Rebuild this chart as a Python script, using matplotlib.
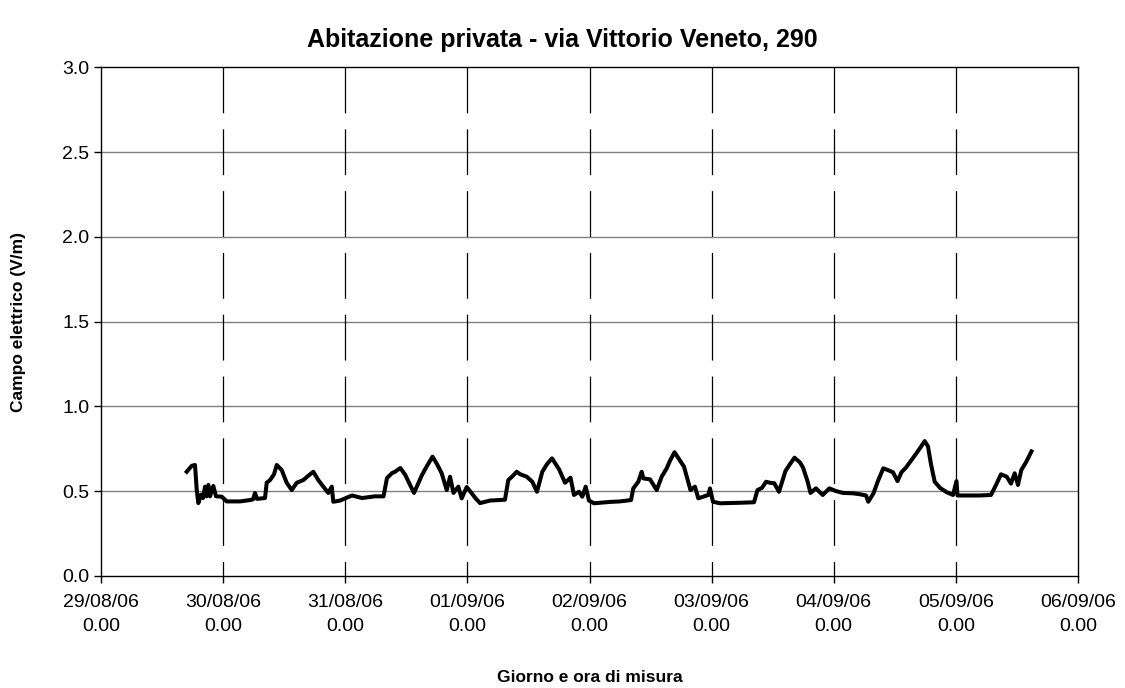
import numpy as np
import matplotlib
matplotlib.use("Agg")
import matplotlib.pyplot as plt

plt.rcParams['font.family'] = ['Liberation Sans', 'DejaVu Sans']
plt.rcParams['lines.scale_dashes'] = False

# ore dall'inizio (29/08/06 0.00)
ore = [16.84, 17.82, 18.47, 18.81, 19.12, 19.65, 20.05, 20.44, 20.73, 21.09,
       21.42, 22.07, 22.60, 23.72, 24.70, 27.32, 29.28, 29.87, 30.26, 30.66,
       32.23, 32.56, 33.21, 34.00, 34.53, 35.51, 36.49, 37.48, 38.46, 39.76,
       40.68, 41.72, 42.70, 43.69, 44.67, 45.34, 45.65, 46.97, 49.33, 51.29,
       53.85, 55.52, 56.20, 57.19, 57.78, 58.82, 59.80, 60.53, 61.51, 63.08,
       64.07, 65.15, 66.03, 66.95, 67.94, 68.59, 69.27, 70.22, 70.88, 71.87,
       72.85, 73.56, 74.48, 76.45, 79.39, 80.04, 80.77, 81.69, 82.40, 83.66,
       84.76, 85.68, 86.72, 87.65, 88.63, 90.01, 91.19, 92.27, 92.95, 93.94,
       94.59, 95.25, 95.90, 96.88, 100.03, 101.99, 104.16, 104.61, 105.59, 106.26,
       106.57, 107.89, 109.21, 110.19, 111.17, 111.82, 112.71, 113.59, 114.57, 115.85,
       116.73, 117.38, 119.35, 119.68, 120.27, 121.65, 125.58, 128.33, 129.02, 129.90,
       130.69, 131.47, 132.32, 133.24, 134.52, 135.40, 136.29, 137.37, 137.96, 138.88,
       139.43, 140.51, 141.83, 143.13, 144.44, 145.82, 147.72, 149.16, 150.34, 150.79,
       151.81, 152.76, 153.74, 154.66, 155.64, 156.53, 157.31, 158.20, 159.18, 160.16,
       161.15, 161.87, 162.52, 163.11, 163.84, 164.88, 166.16, 167.44, 168.12, 168.32,
       170.38, 172.74, 174.90, 175.89, 176.87, 177.99, 178.83, 179.56, 180.21, 180.86,
       181.84, 182.86]

campo = [0.615, 0.65, 0.655, 0.507, 0.43, 0.48, 0.46, 0.527, 0.47, 0.537,
         0.47, 0.531, 0.47, 0.468, 0.44, 0.44, 0.448, 0.452, 0.49, 0.455,
         0.46, 0.55, 0.566, 0.6, 0.655, 0.625, 0.55, 0.507, 0.55, 0.566,
         0.59, 0.615, 0.566, 0.527, 0.49, 0.527, 0.438, 0.445, 0.475, 0.46,
         0.47, 0.47, 0.578, 0.607, 0.615, 0.637, 0.596, 0.55, 0.49, 0.596,
         0.65, 0.704, 0.66, 0.606, 0.507, 0.586, 0.49, 0.527, 0.458, 0.525,
         0.488, 0.46, 0.43, 0.445, 0.45, 0.566, 0.586, 0.615, 0.6, 0.586,
         0.556, 0.497, 0.615, 0.66, 0.694, 0.63, 0.55, 0.58, 0.478, 0.497,
         0.468, 0.527, 0.445, 0.429, 0.437, 0.44, 0.448, 0.517, 0.556, 0.615,
         0.576, 0.57, 0.507, 0.586, 0.635, 0.68, 0.73, 0.69, 0.645, 0.507,
         0.527, 0.458, 0.478, 0.517, 0.438, 0.429, 0.432, 0.435, 0.507, 0.52,
         0.556, 0.55, 0.547, 0.497, 0.62, 0.66, 0.698, 0.67, 0.64, 0.556,
         0.49, 0.517, 0.478, 0.517, 0.501, 0.49, 0.488, 0.482, 0.475, 0.438,
         0.488, 0.566, 0.635, 0.625, 0.612, 0.56, 0.612, 0.64, 0.68, 0.72,
         0.763, 0.796, 0.765, 0.66, 0.556, 0.52, 0.495, 0.478, 0.56, 0.475,
         0.475, 0.475, 0.478, 0.537, 0.6, 0.586, 0.545, 0.606, 0.537, 0.625,
         0.674, 0.735]

giorni = ['29/08/06', '30/08/06', '31/08/06', '01/09/06', '02/09/06',
          '03/09/06', '04/09/06', '05/09/06', '06/09/06']
etichette = [g + '\n0.00' for g in giorni]

fig = plt.figure(figsize=(11.25, 6.88), dpi=100)
ax = fig.add_axes([0.0898, 0.1628, 0.8684, 0.7391])

x = np.array(ore) / 24.0
ax.plot(x, campo, color='black', lw=2.9, solid_joinstyle='round', zorder=3)

for yv in [0.5, 1.0, 1.5, 2.0, 2.5]:
    ax.axhline(yv, color='#808080', lw=1.0, zorder=1)
for d in range(1, len(giorni) - 1):
    ax.plot([d, d], [3.0, 0.0], color='black', lw=0.9,
            linestyle=(0, (33, 11.5)), zorder=1)

ax.set_xlim(0, len(giorni) - 1)
ax.set_ylim(0, 3.0)
ax.set_xticks(range(len(giorni)))
ax.set_xticklabels(etichette, linespacing=1.5)
ax.set_yticks(np.arange(0, 3.01, 0.5))
ax.set_yticklabels(['%.1f' % v for v in np.arange(0, 3.01, 0.5)])
ax.tick_params(direction='out', length=5, width=1, labelsize=14, color='black')
ax.tick_params(axis='x', pad=8)
for s in ax.spines.values():
    s.set_linewidth(1.0)

fig.suptitle('Abitazione privata - via Vittorio Veneto, 290',
             fontsize=18, fontweight='bold', x=0.5, y=0.942, va='center')
fig.text(0.524, 1 - 677 / 688, 'Giorno e ora di misura', fontsize=12.5,
         fontweight='bold', ha='center', va='center')
ax.set_ylabel('Campo elettrico (V/m)', fontsize=12.5, fontweight='bold', labelpad=26)

fig.savefig('out.png', dpi=100)
